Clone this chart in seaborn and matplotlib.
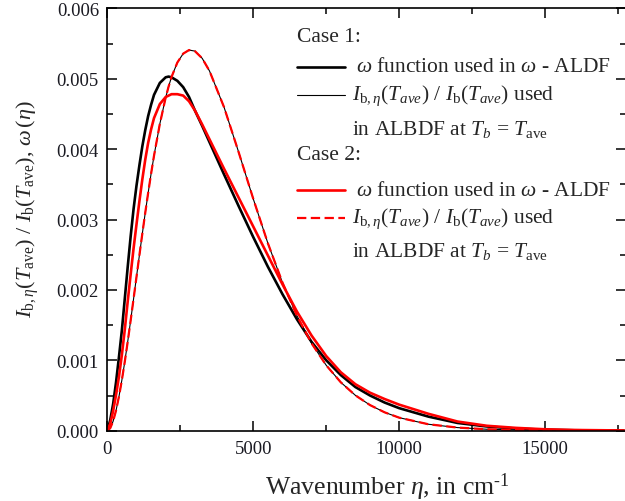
import matplotlib
matplotlib.use("Agg")
import matplotlib.pyplot as plt
from matplotlib.lines import Line2D
from matplotlib.ticker import MultipleLocator, FormatStrFormatter
import pandas as pd
import seaborn as sns

# Wavenumber grid (cm^-1)
eta = [0, 100, 200, 300, 400, 500, 600, 700, 800, 900, 1000, 1100, 1200, 1300,
       1400, 1500, 1600, 1800, 2000, 2100, 2200, 2400, 2600, 2800, 3000, 3250,
       3500, 4000, 4500, 5000, 5500, 6000, 6500, 7000, 7500, 8000, 8500, 9000,
       9500, 10000, 11000, 12000, 13000, 14000, 15000, 16000, 17700]

# Case 1: omega function used in omega-ALDF
omega_case1 = [0, 0.00015, 0.00038, 0.00069, 0.00105, 0.00143, 0.00188, 0.00233,
               0.00276, 0.00315, 0.00348, 0.00377, 0.00404, 0.00427, 0.00447,
               0.00463, 0.00477, 0.00494, 0.00502, 0.00503, 0.00502, 0.00497,
               0.00488, 0.00474, 0.00455, 0.00433, 0.00410, 0.00364, 0.00319,
               0.00275, 0.00233, 0.00194, 0.00158, 0.00126, 0.00100, 0.00079,
               0.00062, 0.00050, 0.00040, 0.00032, 0.00020, 0.00011, 0.00006,
               0.00003, 0.000014, 0.000006, 0.000002]

# Case 2: omega function used in omega-ALDF
omega_case2 = [0, 0.00010, 0.00028, 0.00051, 0.00077, 0.00108, 0.00144, 0.00184,
               0.00222, 0.00259, 0.00293, 0.00326, 0.00357, 0.00385, 0.00409,
               0.00428, 0.00444, 0.00464, 0.00474, 0.00476, 0.00478, 0.00478,
               0.00476, 0.00468, 0.00455, 0.00435, 0.00414, 0.00372, 0.00331,
               0.00290, 0.00249, 0.00208, 0.00169, 0.00135, 0.00106, 0.00083,
               0.00066, 0.00054, 0.00045, 0.00037, 0.00024, 0.00013, 0.00007,
               0.00004, 0.00002, 0.00001, 0.000003]

# Normalised blackbody intensity at T_ave (same in both cases)
planck_ave = [0, 0.0000355, 0.000135, 0.000288, 0.000486, 0.000721, 0.000983,
              0.001267, 0.001566, 0.001873, 0.002184, 0.002494, 0.002799,
              0.003095, 0.003379, 0.003650, 0.003905, 0.004358, 0.004733,
              0.004888, 0.005024, 0.005230, 0.005356, 0.005407, 0.005392,
              0.005290, 0.005111, 0.004595, 0.003956, 0.003294, 0.002664,
              0.002105, 0.001630, 0.001240, 0.000929, 0.000687, 0.000502,
              0.000364, 0.000261, 0.000185, 0.0000916, 0.0000441, 0.0000208,
              0.0000097, 0.0000044, 0.0000020, 0.0000005]

df = pd.DataFrame({"eta": eta, "w1": omega_case1, "w2": omega_case2,
                   "ib": planck_ave})

sns.set_theme(style="ticks")
plt.rcParams.update({
    "font.family": ["Liberation Serif", "DejaVu Serif"],
    "mathtext.fontset": "custom",
    "mathtext.rm": "Liberation Serif",
    "mathtext.it": "Liberation Serif:italic",
    "mathtext.bf": "Liberation Serif:bold",
    "axes.linewidth": 1.2,
})

W, H = 625, 502
fig = plt.figure(figsize=(W / 100, H / 100), dpi=100)
fig.patch.set_facecolor("white")
x0, x1, y0, y1 = 107.3, 626.0, 9.3, 431.7
ax = fig.add_axes([x0 / W, 1 - y1 / H, (x1 - x0) / W, (y1 - y0) / H])

thick, thin, dashw = 1.9, 0.8, 1.6
dash = (0, (4.2, 2.0))

sns.lineplot(data=df, x="eta", y="w1", ax=ax, color="black", linewidth=thick,
             estimator=None, sort=False)
sns.lineplot(data=df, x="eta", y="ib", ax=ax, color="black", linewidth=thin,
             estimator=None, sort=False)
sns.lineplot(data=df, x="eta", y="w2", ax=ax, color="#ff0000", linewidth=thick,
             estimator=None, sort=False)
sns.lineplot(data=df, x="eta", y="ib", ax=ax, color="#ff0000", linewidth=dashw,
             linestyle=dash, estimator=None, sort=False)

ax.set_xlim(0, 17770)
ax.set_ylim(0, 0.006)
ax.xaxis.set_major_locator(MultipleLocator(5000))
ax.xaxis.set_minor_locator(MultipleLocator(2500))
ax.yaxis.set_major_locator(MultipleLocator(0.001))
ax.yaxis.set_minor_locator(MultipleLocator(0.0005))
ax.yaxis.set_major_formatter(FormatStrFormatter("%.3f"))
ax.tick_params(which="both", direction="in", top=True, right=True,
               colors="black", labelcolor="#1a1a22", width=1.1)
ax.tick_params(which="major", length=7, labelsize=13.5)
ax.tick_params(axis="y", which="major", pad=6)
ax.tick_params(axis="x", which="major", pad=7)
ax.tick_params(which="minor", length=4)
for s in ax.spines.values():
    s.set_color("black")

ax.set_xlabel(r"Wavenumber $\eta$, in cm$^{\text{-1}}$", fontsize=18.5)
ax.xaxis.set_label_coords(0.541, -0.131)
ax.xaxis.label.set_va("center")
ax.set_ylabel(r"$I_{\mathrm{b},\eta}(T_{\mathrm{ave}})$ / $I_{\mathrm{b}}(T_{\mathrm{ave}})$, $\omega\,(\eta)$",
              fontsize=16)
ax.yaxis.set_label_coords(-0.128, 0.527)


def fx(px):
    return px / W


def fy(py):
    return 1 - py / H


fs = 15.5
lx0, lx1 = 297, 345
tx = 356
tx2 = 352


def key(py, **kw):
    fig.add_artist(Line2D([fx(lx0), fx(lx1)], [fy(py), fy(py)],
                          transform=fig.transFigure, **kw))


fig.text(fx(lx0), fy(38), "Case 1:", fontsize=fs, va="center", ha="left")
key(68, color="black", linewidth=thick)
fig.text(fx(tx), fy(68), r"$\omega$ function used in $\omega$ - ALDF",
         fontsize=fs, va="center", ha="left")
key(96, color="black", linewidth=thin)
fig.text(fx(tx2), fy(96),
         r"$I_{\mathrm{b},\eta}(T_{ave})$ / $I_{\mathrm{b}}(T_{ave})$ used",
         fontsize=fs, va="center", ha="left")
fig.text(fx(tx2), fy(129), r"in ALBDF at $T_b$ = $T_{\mathrm{ave}}$",
         fontsize=fs, va="center", ha="left")

fig.text(fx(lx0), fy(156), "Case 2:", fontsize=fs, va="center", ha="left")
key(191, color="#ff0000", linewidth=thick)
fig.text(fx(tx), fy(191), r"$\omega$ function used in $\omega$ - ALDF",
         fontsize=fs, va="center", ha="left")
key(219, color="#ff0000", linewidth=dashw, linestyle=dash)
fig.text(fx(tx2), fy(219),
         r"$I_{\mathrm{b},\eta}(T_{ave})$ / $I_{\mathrm{b}}(T_{ave})$ used",
         fontsize=fs, va="center", ha="left")
fig.text(fx(tx2), fy(251), r"in ALBDF at $T_b$ = $T_{\mathrm{ave}}$",
         fontsize=fs, va="center", ha="left")

fig.savefig("out.png", dpi=100, facecolor="white")
